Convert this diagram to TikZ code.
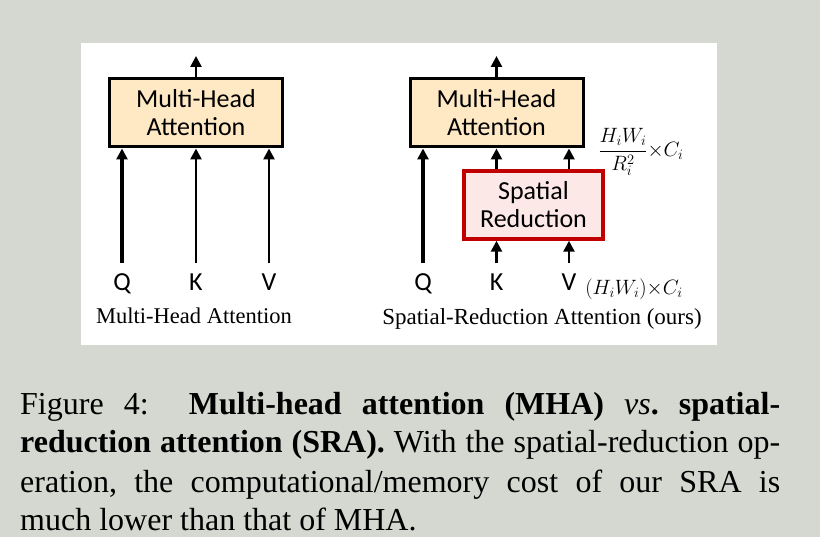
\documentclass[tikz,border=0pt]{standalone}
\usepackage{fontspec}
\setmainfont{Liberation Serif}
\newfontfamily\calib{Carlito}
\usetikzlibrary{arrows.meta}
\definecolor{bg}{RGB}{213,216,208}
\definecolor{mhafill}{RGB}{255,233,197}
\definecolor{srfill}{RGB}{253,232,232}
\definecolor{srred}{RGB}{192,0,0}
\frenchspacing
\begin{document}
\begin{tikzpicture}[x=1pt,y=-1pt,
  blk/.style={draw=black, line width=3pt, fill=mhafill, minimum width=173pt, minimum height=68pt,
    inner sep=0pt, align=center, font=\calib\fontsize{26}{28}\selectfont},
  srblk/.style={blk, draw=srred, fill=srfill, line width=3.5pt, minimum width=139pt},
  arr/.style={line width=2.6pt, -{Triangle[length=11pt,width=11pt]}},
  qarr/.style={arr, line width=3.4pt},
  lbl/.style={font=\calib\fontsize{26}{28}\selectfont, inner sep=0pt, outer ysep=11pt, anchor=base},
  sub/.style={font=\fontsize{22.5}{27}\selectfont, anchor=base, inner sep=0pt},
  mathlbl/.style={font=\fontsize{20}{23}\selectfont, inner sep=0pt},
  captxt/.style={font=\fontsize{32}{38}\selectfont, anchor=base west, inner sep=0pt},
  ]
\useasboundingbox (0,0) rectangle (820,537);
\fill[bg] (0,0) rectangle (820,537);
\fill[white] (81,43) rectangle (717,345);

% left: MHA
\node[blk] (mha1) at (196,113) {Multi-Head\\Attention};
\coordinate (o1) at (196,56);
\draw[arr] (mha1.north) -- (o1);
\node[lbl] (q1) at (122,291) {Q};
\node[lbl] (k1) at (196,291) {K};
\node[lbl] (v1) at (269,291) {V};
\draw[qarr] (q1.north) -- (q1.north |- mha1.south);
\draw[arr] (k1.north) -- (k1.north |- mha1.south);
\draw[arr] (v1.north) -- (v1.north |- mha1.south);
\node[sub] (t1) at (194,324) {Multi-Head Attention};

% right: SRA
\node[blk] (mha2) at (496.5,113) {Multi-Head\\Attention};
\coordinate (o2) at (496.5,56);
\draw[arr] (mha2.north) -- (o2);
\node[srblk] (sr) at (533.5,205) {Spatial\\Reduction};
\node[lbl] (q2) at (423,291) {Q};
\node[lbl] (k2) at (496.5,291) {K};
\node[lbl] (v2) at (569,291) {V};
\draw[qarr] (q2.north) -- (q2.north |- mha2.south);
\draw[arr] (k2.north) -- (k2.north |- sr.south);
\draw[arr] (v2.north) -- (v2.north |- sr.south);
\draw[arr] (sr.north -| k2) -- (k2 |- mha2.south);
\draw[arr] (sr.north -| v2) -- (v2 |- mha2.south);
\node[mathlbl] (f1) at (641,152) {$\displaystyle\frac{H_iW_i}{R_i^2}{\times}C_i$};
\node[mathlbl] (f2) at (634,289) {$(H_iW_i){\times}C_i$};
\node[sub, font=\fontsize{23}{27}\selectfont] (t2) at (542,325) {Spatial-Reduction Attention (ours)};

% caption
\node[captxt] (c1) at (20,415) {\makebox[760pt][s]{Figure 4:\ \ \textbf{Multi-head attention (MHA)} \textit{vs}\textbf{.} \textbf{spatial-}}};
\node[captxt] (c2) at (20,453) {\makebox[760pt][s]{\textbf{reduction attention (SRA).} With the spatial-reduction op-}};
\node[captxt] (c3) at (20,492) {\makebox[760pt][s]{eration, the computational/memory cost of our SRA is}};
\node[captxt] (c4) at (20,530) {much lower than that of MHA.};
\end{tikzpicture}
\end{document}
